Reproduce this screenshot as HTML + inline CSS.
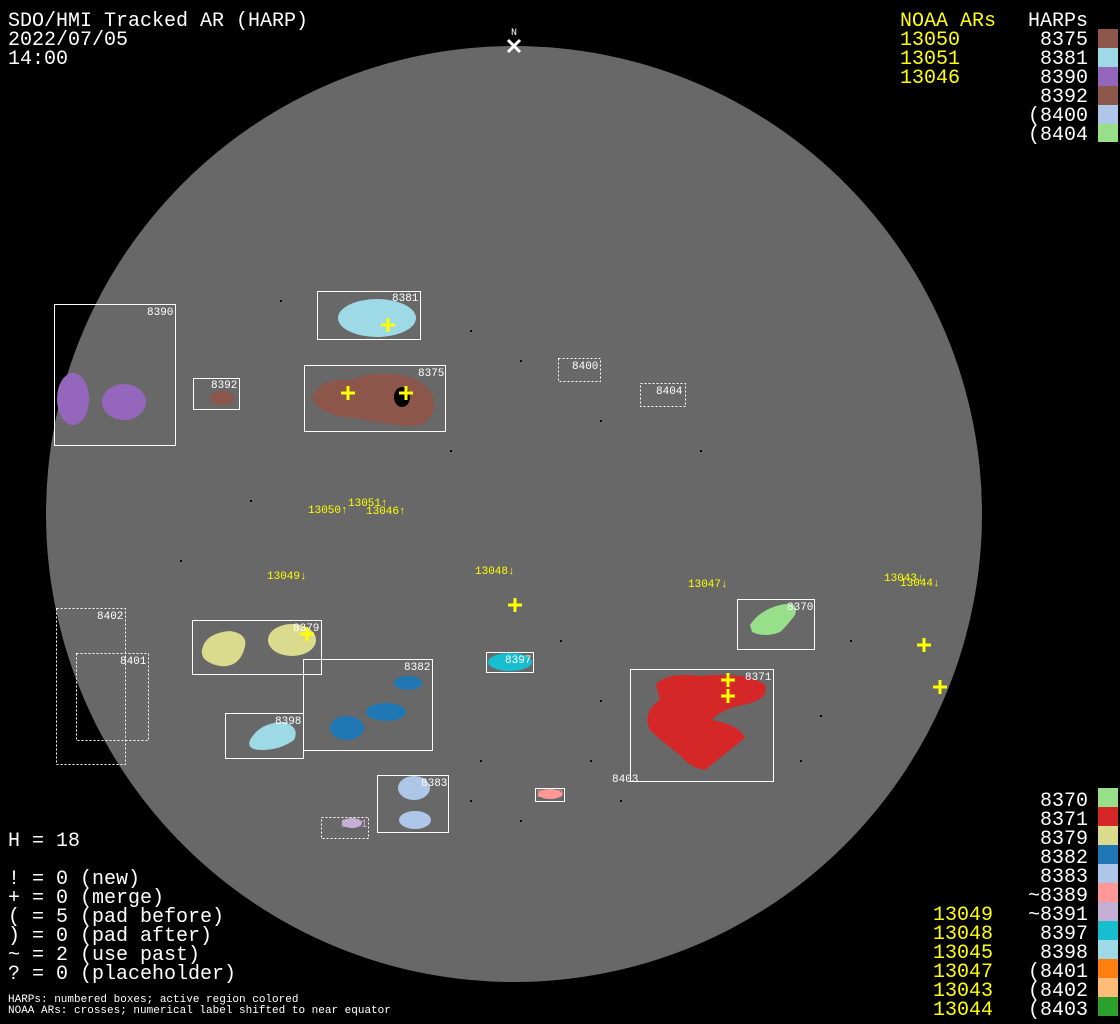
<!DOCTYPE html>
<html><head><style>
html,body{margin:0;padding:0;background:#000;}
svg{display:block;}
text{font-family:"Liberation Mono","DejaVu Sans Mono",monospace;}
</style></head><body>
<svg width="1120" height="1024" viewBox="0 0 1120 1024" xmlns="http://www.w3.org/2000/svg">
<rect width="1120" height="1024" fill="#000"/>
<circle cx="514" cy="514" r="468" fill="#686868"/>
<text x="514" y="35" fill="#fff" font-size="10" text-anchor="middle">N</text>
<path d="M508 40 L520 52 M520 40 L508 52" stroke="#fff" stroke-width="3"/>

<g fill="#fff" font-size="20">
<text x="8" y="26">SDO/HMI Tracked AR (HARP)</text>
<text x="8" y="45">2022/07/05</text>
<text x="8" y="64">14:00</text>
</g>
<g fill="#ffff00" font-size="20">
<text x="900" y="26">NOAA ARs</text>
<text x="900" y="45">13050</text>
<text x="900" y="64">13051</text>
<text x="900" y="83">13046</text>
</g>
<g fill="#fff" font-size="20" text-anchor="end">
<text x="1088" y="26">HARPs</text>
<text x="1088" y="45">8375</text>
<text x="1088" y="64">8381</text>
<text x="1088" y="83">8390</text>
<text x="1088" y="102">8392</text>
<text x="1088" y="121">(8400</text>
<text x="1088" y="140">(8404</text>
</g>
<rect x="1098" y="29" width="20" height="19" fill="#8c564b"/>
<rect x="1098" y="48" width="20" height="19" fill="#9edae5"/>
<rect x="1098" y="67" width="20" height="19" fill="#9467bd"/>
<rect x="1098" y="86" width="20" height="19" fill="#8c564b"/>
<rect x="1098" y="105" width="20" height="19" fill="#aec7e8"/>
<rect x="1098" y="124" width="20" height="18" fill="#98df8a"/>

<g fill="#fff" font-size="20" text-anchor="end">
<text x="1088" y="806">8370</text>
<text x="1088" y="825">8371</text>
<text x="1088" y="844">8379</text>
<text x="1088" y="863">8382</text>
<text x="1088" y="882">8383</text>
<text x="1088" y="901">~8389</text>
<text x="1088" y="920">~8391</text>
<text x="1088" y="939">8397</text>
<text x="1088" y="958">8398</text>
<text x="1088" y="977">(8401</text>
<text x="1088" y="996">(8402</text>
<text x="1088" y="1015">(8403</text>
</g>
<g fill="#ffff00" font-size="20" text-anchor="end">
<text x="993" y="920">13049</text>
<text x="993" y="939">13048</text>
<text x="993" y="958">13045</text>
<text x="993" y="977">13047</text>
<text x="993" y="996">13043</text>
<text x="993" y="1015">13044</text>
</g>
<rect x="1098" y="788" width="20" height="19" fill="#98df8a"/>
<rect x="1098" y="807" width="20" height="19" fill="#d62728"/>
<rect x="1098" y="826" width="20" height="19" fill="#dbdb8d"/>
<rect x="1098" y="845" width="20" height="19" fill="#1f77b4"/>
<rect x="1098" y="864" width="20" height="19" fill="#aec7e8"/>
<rect x="1098" y="883" width="20" height="19" fill="#ff9896"/>
<rect x="1098" y="902" width="20" height="19" fill="#c5b0d5"/>
<rect x="1098" y="921" width="20" height="19" fill="#17becf"/>
<rect x="1098" y="940" width="20" height="19" fill="#9edae5"/>
<rect x="1098" y="959" width="20" height="19" fill="#ff7f0e"/>
<rect x="1098" y="978" width="20" height="19" fill="#ffbb78"/>
<rect x="1098" y="997" width="20" height="19" fill="#2ca02c"/>

<g fill="#fff" font-size="20">
<text x="8" y="846">H = 18</text>
<text x="8" y="884">! = 0 (new)</text>
<text x="8" y="903">+ = 0 (merge)</text>
<text x="8" y="922">( = 5 (pad before)</text>
<text x="8" y="941">) = 0 (pad after)</text>
<text x="8" y="960">~ = 2 (use past)</text>
<text x="8" y="979">? = 0 (placeholder)</text>
</g>
<g fill="#fff" font-size="11">
<text x="8" y="1002">HARPs: numbered boxes; active region colored</text>
<text x="8" y="1013">NOAA ARs: crosses; numerical label shifted to near equator</text>
</g>

<!-- specks -->
<g fill="#000">
<rect x="280" y="300" width="2" height="2"/><rect x="470" y="330" width="2" height="2"/><rect x="520" y="360" width="2" height="2"/>
<rect x="600" y="420" width="2" height="2"/><rect x="450" y="450" width="2" height="2"/><rect x="700" y="450" width="2" height="2"/>
<rect x="560" y="640" width="2" height="2"/><rect x="600" y="700" width="2" height="2"/><rect x="480" y="760" width="2" height="2"/>
<rect x="520" y="820" width="2" height="2"/><rect x="470" y="800" width="2" height="2"/><rect x="820" y="715" width="2" height="2"/>
<rect x="800" y="760" width="2" height="2"/><rect x="250" y="500" width="2" height="2"/><rect x="180" y="560" width="2" height="2"/>
<rect x="620" y="800" width="2" height="2"/><rect x="590" y="760" width="2" height="2"/><rect x="850" y="640" width="2" height="2"/>
</g>

<!-- 8390 -->
<ellipse cx="73" cy="399" rx="16" ry="26" fill="#9467bd"/>
<ellipse cx="124" cy="402" rx="22" ry="18" fill="#9467bd"/>
<rect x="54.5" y="304.5" width="121" height="141" fill="none" stroke="#fff"/>
<text x="147" y="315" fill="#fff" font-size="11">8390</text>
<ellipse cx="222" cy="398" rx="12" ry="7" fill="#8c564b"/>
<rect x="193.5" y="378.5" width="46" height="31" fill="none" stroke="#fff"/>
<text x="211" y="388" fill="#fff" font-size="11">8392</text>
<ellipse cx="377" cy="318" rx="39" ry="19" fill="#9edae5"/>
<rect x="317.5" y="291.5" width="103" height="48" fill="none" stroke="#fff"/>
<text x="392" y="301" fill="#fff" font-size="11">8381</text>
<path d="M312 398 Q318 378 350 380 Q380 368 412 378 Q436 388 434 408 Q430 428 405 426 Q375 422 355 418 Q320 416 312 398Z" fill="#8c564b"/>
<ellipse cx="402" cy="397" rx="8" ry="10" fill="#000"/>
<rect x="304.5" y="365.5" width="141" height="66" fill="none" stroke="#fff"/>
<text x="418" y="376" fill="#fff" font-size="11">8375</text>
<rect x="558.5" y="358.5" width="42" height="23" fill="none" stroke="#fff" stroke-dasharray="2,2"/>
<text x="572" y="369" fill="#fff" font-size="11">8400</text>
<rect x="640.5" y="383.5" width="45" height="23" fill="none" stroke="#fff" stroke-dasharray="2,2"/>
<text x="656" y="394" fill="#fff" font-size="11">8404</text>
<path d="M202 650 Q205 633 230 631 Q250 634 244 650 Q238 668 220 666 Q200 662 202 650Z" fill="#dbdb8d"/>
<ellipse cx="292" cy="640" rx="24" ry="16" fill="#dbdb8d"/>
<rect x="192.5" y="620.5" width="129" height="54" fill="none" stroke="#fff"/>
<text x="293" y="631" fill="#fff" font-size="11">8379</text>
<rect x="56.5" y="608.5" width="69" height="156" fill="none" stroke="#fff" stroke-dasharray="2,2"/>
<text x="97" y="619" fill="#fff" font-size="11">8402</text>
<rect x="76.5" y="653.5" width="72" height="87" fill="none" stroke="#fff" stroke-dasharray="2,2"/>
<text x="120" y="664" fill="#fff" font-size="11">8401</text>
<ellipse cx="408" cy="683" rx="14" ry="7" fill="#1f77b4"/>
<ellipse cx="386" cy="712" rx="20" ry="9" fill="#1f77b4"/>
<ellipse cx="347" cy="728" rx="17" ry="12" fill="#1f77b4"/>
<rect x="303.5" y="659.5" width="129" height="91" fill="none" stroke="#fff"/>
<text x="404" y="670" fill="#fff" font-size="11">8382</text>
<path d="M250 740 Q260 722 285 722 Q300 728 294 740 Q280 750 262 750 Q246 750 250 740Z" fill="#9edae5"/>
<rect x="225.5" y="713.5" width="78" height="45" fill="none" stroke="#fff"/>
<text x="275" y="724" fill="#fff" font-size="11">8398</text>
<ellipse cx="510" cy="662" rx="22" ry="9" fill="#17becf"/>
<rect x="486.5" y="652.5" width="47" height="20" fill="none" stroke="#fff"/>
<text x="505" y="663" fill="#fff" font-size="11">8397</text>
<ellipse cx="414" cy="788" rx="16" ry="12" fill="#aec7e8"/>
<ellipse cx="415" cy="820" rx="16" ry="9" fill="#aec7e8"/>
<rect x="377.5" y="775.5" width="71" height="57" fill="none" stroke="#fff"/>
<text x="421" y="786" fill="#fff" font-size="11">8383</text>
<ellipse cx="352" cy="823" rx="10" ry="5" fill="#c5b0d5"/>
<rect x="321.5" y="817.5" width="47" height="21" fill="none" stroke="#fff" stroke-dasharray="2,2"/>
<text x="341" y="827" fill="#c5b0d5" font-size="11">8391</text>
<ellipse cx="550" cy="794" rx="12" ry="5" fill="#ff9896"/>
<rect x="535.5" y="788.5" width="29" height="13" fill="none" stroke="#fff"/>
<text x="537" y="797" fill="#ff9896" font-size="11">8389</text>
<path d="M750 625 Q760 610 780 605 Q800 600 795 615 Q785 628 780 632 Q765 638 752 632Z" fill="#98df8a"/>
<rect x="737.5" y="599.5" width="77" height="50" fill="none" stroke="#fff"/>
<text x="787" y="610" fill="#fff" font-size="11">8370</text>
<path d="M656 685 Q665 672 700 676 Q750 672 765 685 Q770 700 742 705 Q720 710 712 720 Q740 725 745 738 Q730 750 705 770 Q690 768 680 755 Q660 740 650 730 Q642 712 660 700Z" fill="#d62728"/>
<rect x="630.5" y="669.5" width="143" height="112" fill="none" stroke="#fff"/>
<text x="745" y="680" fill="#fff" font-size="11">8371</text>
<text x="612" y="782" fill="#fff" font-size="11">8403</text>

<g stroke="#ffff00" stroke-width="3">
<path d="M381 325h14M388 318v14"/>
<path d="M341 393h14M348 386v14"/>
<path d="M399 393h14M406 386v14"/>
<path d="M300 634h14M307 627v14"/>
<path d="M508 605h14M515 598v14"/>
<path d="M721 680h14M728 673v14"/>
<path d="M721 696h14M728 689v14"/>
<path d="M917 645h14M924 638v14"/>
<path d="M933 687h14M940 680v14"/>
</g>
<g fill="#ffff00" font-size="11">
<text x="348" y="506">13051↑</text>
<text x="308" y="513">13050↑</text>
<text x="366" y="514">13046↑</text>
<text x="267" y="579">13049↓</text>
<text x="475" y="574">13048↓</text>
<text x="688" y="587">13047↓</text>
<text x="884" y="581">13043↓</text>
<text x="900" y="586">13044↓</text>
</g>
</svg>
</body></html>
